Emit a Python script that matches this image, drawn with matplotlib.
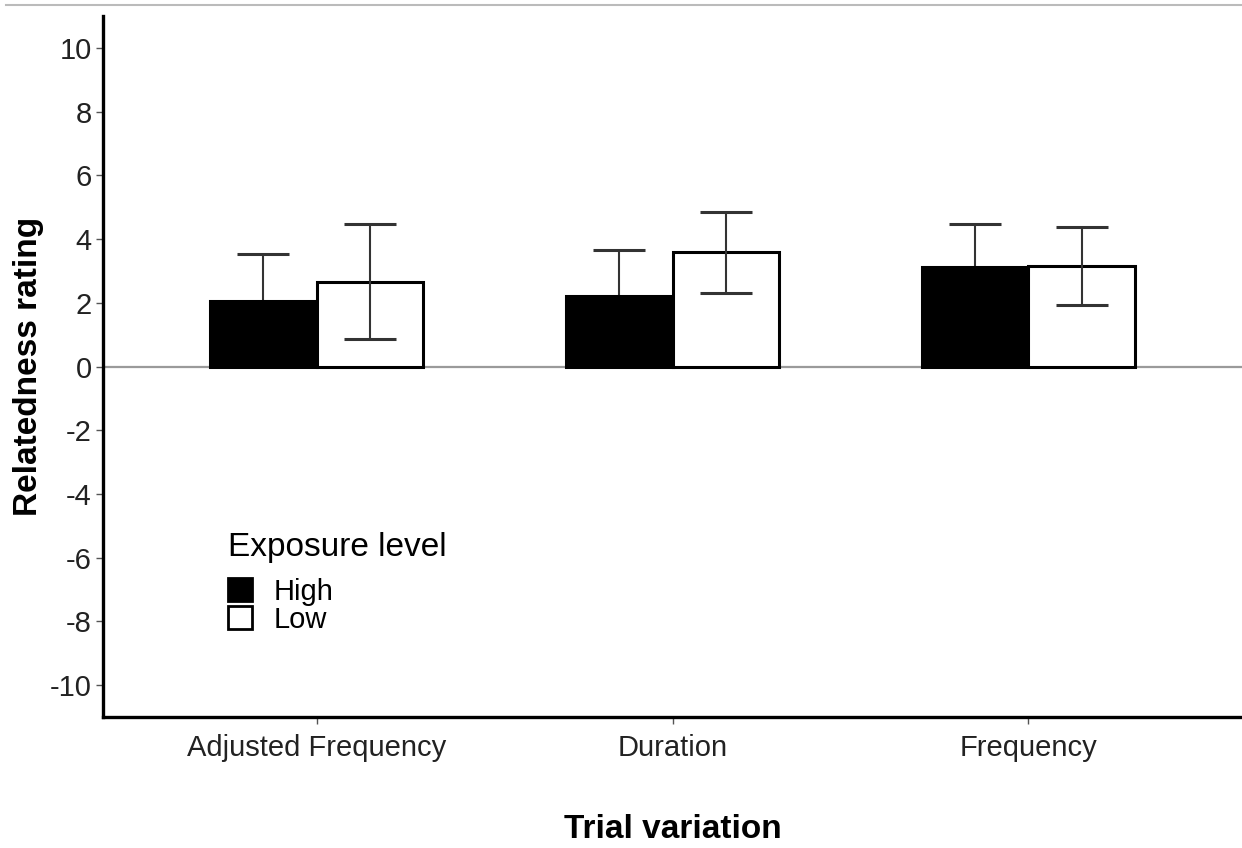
import numpy as np
import matplotlib
matplotlib.use("Agg")
import matplotlib.pyplot as plt
from matplotlib.patches import Patch
from matplotlib.lines import Line2D

plt.rcParams['font.family'] = ['Liberation Sans', 'DejaVu Sans']
plt.rcParams['axes.unicode_minus'] = False

categories = ["Adjusted Frequency", "Duration", "Frequency"]
levels = ["High", "Low"]
means_high = [2.06, 2.22, 3.12]
se_high = [1.47, 1.43, 1.36]
means_low = [2.66, 3.58, 3.16]
se_low = [1.81, 1.27, 1.23]

fig = plt.figure(figsize=(12.42, 8.48), dpi=100)
ax = fig.add_axes([103 / 1242, 131 / 848, 1139 / 1242, 701 / 848])

x = np.arange(1, len(categories) + 1)
w = 0.3

ax.axhline(0, color='#9a9a9a', lw=1.6, zorder=1)

# high errorbars sit under the black bars, low ones over the white bars
ax.errorbar(x - w / 2, means_high, yerr=se_high, fmt='none', ecolor='#333333',
            elinewidth=1.5, capsize=19, capthick=2.2, zorder=1.5)
ax.bar(x - w / 2, means_high, w, color='black', edgecolor='black', lw=2.2, zorder=2, label=levels[0])
ax.bar(x + w / 2, means_low, w, color='white', edgecolor='black', lw=2.2, zorder=2, label=levels[1])
ax.errorbar(x + w / 2, means_low, yerr=se_low, fmt='none', ecolor='#333333',
            elinewidth=1.5, capsize=19, capthick=2.2, zorder=3)

ax.set_xlim(0.4, 3.6)
ax.set_ylim(-11, 11)
ax.set_yticks(np.arange(-10, 11, 2))
ax.set_xticks(x)
ax.set_xticklabels(categories)

for s in ['top', 'right']:
    ax.spines[s].set_visible(False)
for s in ['left', 'bottom']:
    ax.spines[s].set_linewidth(2.4)
    ax.spines[s].set_color('black')

ax.tick_params(axis='both', colors='#555555', labelcolor='#222222',
               labelsize=21, length=5, width=1)
ax.tick_params(axis='y', pad=3)
ax.tick_params(axis='x', pad=7)

ax.set_ylabel("Relatedness rating", fontsize=24, fontweight='bold', labelpad=4)
ax.set_xlabel("Trial variation", fontsize=24, fontweight='bold', labelpad=38)

handles = [Patch(facecolor='black', edgecolor='black', lw=2, label=levels[0]),
           Patch(facecolor='white', edgecolor='black', lw=2, label=levels[1])]
leg = ax.legend(handles=handles, title="Exposure level", loc='upper left',
                bbox_to_anchor=(216 / 1242, 1 - 520 / 848), bbox_transform=fig.transFigure,
                frameon=False, fontsize=21, title_fontsize=24,
                handlelength=0.85, handleheight=0.85, labelspacing=0.0,
                handletextpad=0.72, borderaxespad=0)
leg._legend_box.align = 'left'
leg._legend_box.sep = 11

fig.add_artist(Line2D([6 / 1242, 1], [1 - 5 / 848, 1 - 5 / 848],
                      transform=fig.transFigure, color='#bbbbbb', lw=1.5))

fig.savefig("out.png", dpi=100)
